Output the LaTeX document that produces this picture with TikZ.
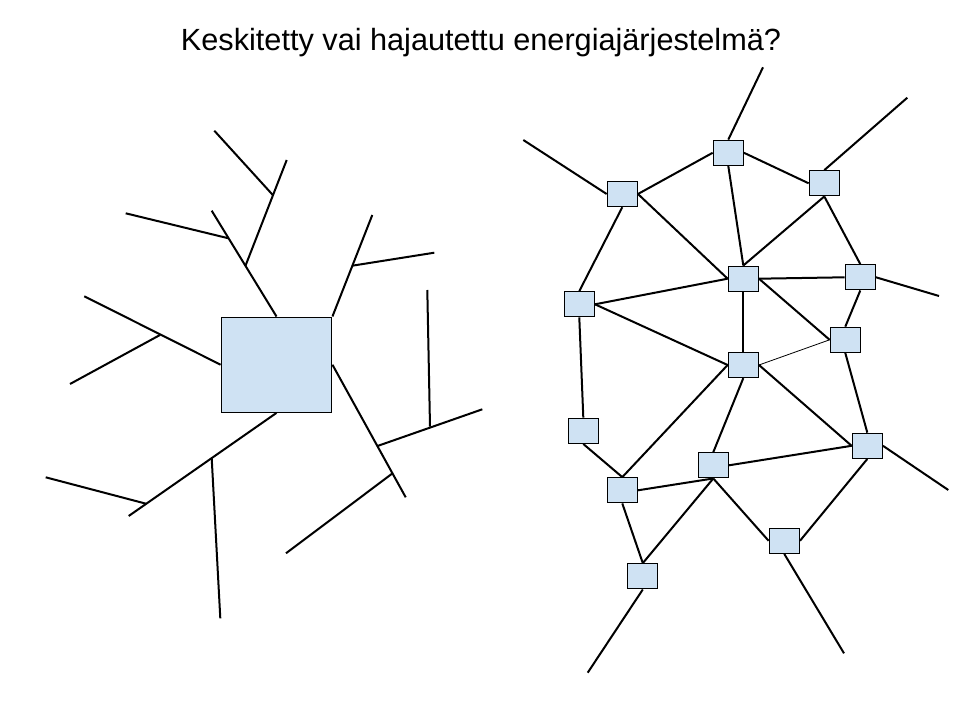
\documentclass[tikz,border=0pt]{standalone}
\usepackage{fontspec}
\setmainfont{Liberation Sans}
\usetikzlibrary{positioning}

\definecolor{boxblue}{RGB}{207,226,243}
\tikzset{every picture/.style={line width=0.75pt}}
\tikzset{
  wire/.style={line width=1.5pt},
  thinwire/.style={line width=0.6pt},
  station/.style={draw, line width=1pt, fill=boxblue, rectangle, inner sep=0pt, minimum width=22.5pt, minimum height=18.75pt},
  plantbox/.style={draw, line width=1pt, fill=boxblue, rectangle, inner sep=0pt, minimum width=82.9pt, minimum height=71.3pt}
}

\begin{document}
\begin{tikzpicture}[x=0.75pt,y=0.75pt,yscale=-1,xscale=1]
	\useasboundingbox (0,0) rectangle (960,720);

	% Text Node
	\node[anchor=base] (title) at (481,51) {\fontsize{23}{27}\selectfont Keskitetty vai hajautettu energiajärjestelmä?};

	%Centralised system
	\node[plantbox] (plant) at (276.5,364.7) {};
	\coordinate (t1) at (211.7,210.7);
	\coordinate (b1) at (245.5,265.7);
	\coordinate (b2) at (228.5,238.3);
	\coordinate (t2) at (286.7,160);
	\coordinate (b3) at (272.8,195);
	\coordinate (t3) at (214.3,130.7);
	\coordinate (t4) at (125.7,213.3);
	\coordinate (t5) at (372.3,215);
	\coordinate (b4) at (352.3,265.7);
	\coordinate (t6) at (434.3,252.7);
	\coordinate (t7) at (84.3,296.3);
	\coordinate (b5) at (160,335);
	\coordinate (t8) at (70,384);
	\coordinate (t9) at (128.7,516);
	\coordinate (b6) at (211.7,458.2);
	\coordinate (t10) at (220.3,618.3);
	\coordinate (b7) at (146,503.7);
	\coordinate (t11) at (45.7,477.3);
	\coordinate (t12) at (405.7,497.3);
	\coordinate (b8) at (377.5,446);
	\coordinate (t13) at (482.3,409.3);
	\coordinate (b9) at (430,426.7);
	\coordinate (t14) at (427.3,290);
	\coordinate (b10) at (392.3,473.5);
	\coordinate (t15) at (286,553.3);

	%Straight Lines
	\draw[wire] (plant.north) -- (t1);
	\draw[wire] (b1) -- (t2);
	\draw[wire] (b3) -- (t3);
	\draw[wire] (b2) -- (t4);
	\draw[wire] (plant.north east) -- (t5);
	\draw[wire] (b4) -- (t6);
	\draw[wire] (plant.west) -- (t7);
	\draw[wire] (b5) -- (t8);
	\draw[wire] (plant.south) -- (t9);
	\draw[wire] (b6) -- (t10);
	\draw[wire] (b7) -- (t11);
	\draw[wire] (plant.east) -- (t12);
	\draw[wire] (b8) -- (t13);
	\draw[wire] (b9) -- (t14);
	\draw[wire] (b10) -- (t15);

	%Distributed system
	\node[station] (s1) at (728.3,152.8) {};
	\node[station] (s2) at (622.3,194) {};
	\node[station] (s3) at (824.3,183.3) {};
	\node[station] (s4) at (743.3,278.7) {};
	\node[station] (s5) at (860.3,277.3) {};
	\node[station] (s6) at (579.3,304.3) {};
	\node[station] (s7) at (845.3,339.8) {};
	\node[station] (s8) at (743.3,365) {};
	\node[station] (s9) at (583.3,430.8) {};
	\node[station] (s10) at (622.3,490.3) {};
	\node[station] (s11) at (713.3,465.3) {};
	\node[station] (s12) at (867.3,445.8) {};
	\node[station] (s13) at (784.3,540.8) {};
	\node[station] (s14) at (642.8,576.3) {};
	\coordinate (e1) at (763,67.3);
	\coordinate (e2) at (523.3,140);
	\coordinate (e3) at (907.3,97.7);
	\coordinate (e4) at (939,296);
	\coordinate (e5) at (948.3,490);
	\coordinate (e6) at (587.7,672.7);
	\coordinate (e7) at (844,653.3);

	%Straight Lines
	\draw[wire] (s1.north) -- (e1);
	\draw[wire] (s2.west) -- (e2);
	\draw[wire] (s3.north) -- (e3);
	\draw[wire] (s5.east) -- (e4);
	\draw[wire] (s12.east) -- (e5);
	\draw[wire] (s14.south) -- (e6);
	\draw[wire] (s13.south) -- (e7);
	\draw[wire] (s1.west) -- (s2.east);
	\draw[wire] (s1.east) -- (s3.west);
	\draw[wire] (s1.south) -- (s4.north);
	\draw[wire] (s2.east) -- (s4.west);
	\draw[wire] (s2.south) -- (s6.north);
	\draw[wire] (s3.south) -- (s4.north);
	\draw[wire] (s3.south) -- (s5.north);
	\draw[wire] (s4.east) -- (s5.west);
	\draw[wire] (s6.east) -- (s4.west);
	\draw[wire] (s6.east) -- (s8.west);
	\draw[wire] (s4.south) -- (s8.north);
	\draw[wire] (s4.east) -- (s7.west);
	\draw[wire] (s5.south) -- (s7.north);
	\draw[thinwire] (s8.east) -- (s7.west);
	\draw[wire] (s7.south) -- (s12.north);
	\draw[wire] (s6.south) -- (s9.north);
	\draw[wire] (s8.west) -- (s10.north);
	\draw[wire] (s8.south) -- (s11.north);
	\draw[wire] (s8.east) -- (s12.west);
	\draw[wire] (s9.south) -- (s10.north);
	\draw[wire] (s10.east) -- (s11.south);
	\draw[wire] (s11.east) -- (s12.west);
	\draw[wire] (s11.south) -- (s14.north);
	\draw[wire] (s11.south) -- (s13.west);
	\draw[wire] (s10.south) -- (s14.north);
	\draw[wire] (s12.south) -- (s13.east);

\end{tikzpicture}
\end{document}
